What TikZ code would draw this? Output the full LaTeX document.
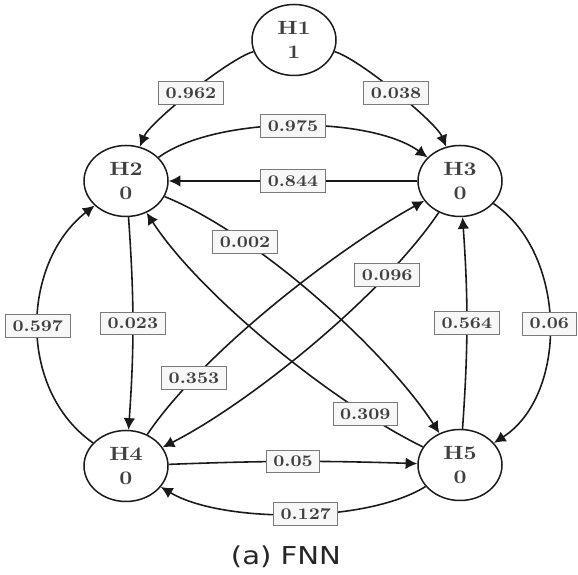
\documentclass[tikz,border=0pt]{standalone}
\usepackage{fontspec}
\usetikzlibrary{arrows.meta,shapes.geometric}
\newfontfamily\wideserif{lmroman10}[Extension=.otf,UprightFont=*-regular,BoldFont=*-bold,FakeStretch=1.18]
\newfontfamily\widesans{DejaVu Sans}[FakeStretch=1.18]
\definecolor{edgecol}{HTML}{1A1A1A}
\definecolor{txtcol}{HTML}{404040}
\definecolor{boxline}{HTML}{7A7A7A}
\definecolor{boxfill}{HTML}{F7F7F7}
\begin{document}
\begin{tikzpicture}[x=0.6pt,y=0.6pt,
    hnode/.style={ellipse,draw=edgecol,line width=0.9pt,minimum width=50.4pt,minimum height=42.6pt,
        inner sep=0pt,align=center,text=txtcol,font=\wideserif\fontsize{11.5}{14.5}\selectfont\bfseries},
    wt/.style={draw=boxline,fill=boxfill,line width=0.6pt,inner xsep=4.2pt,inner ysep=3.5pt,
        text=txtcol,font=\wideserif\fontsize{9.8}{11}\selectfont\bfseries},
    link/.style={draw=edgecol,line width=0.95pt,-{Latex[length=7pt,width=7pt]}}]
\useasboundingbox (0,0) rectangle (578,575);
% states
\node[hnode] (H1) at (294,535) {H1\\1};
\node[hnode] (H2) at (126,394) {H2\\0};
\node[hnode] (H3) at (460,394) {H3\\0};
\node[hnode] (H4) at (126,109) {H4\\0};
\node[hnode] (H5) at (460,110) {H5\\0};
% transitions
\draw[link] (H1) to[out=196,in=68,looseness=0.45] node[wt] {0.962} (H2);
\draw[link] (H1) to[out=-16,in=112,looseness=0.45] node[wt] {0.038} (H3);
\draw[link] (H2) to[out=36,in=144,looseness=0.68] node[wt] {0.975} (H3);
\draw[link] (H3) -- node[wt] {0.844} (H2);
\draw[link] (H2) to[bend left=4] node[wt] {0.023} (H4);
\draw[link] (H4) to[out=145,in=218,looseness=1] node[wt] {0.597} (H2);
\draw[link] (H2) to[out=-22,in=123,looseness=0.7] node[wt,pos=0.27] {0.002} (H5);
\draw[link] (H5) to[out=154,in=-57,looseness=0.7] node[wt,pos=0.2] {0.309} (H2);
\draw[link] (H4) to[out=56,in=209,looseness=0.7] node[wt,pos=0.22] {0.353} (H3);
\draw[link] (H3) to[out=236,in=27,looseness=0.7] node[wt,pos=0.24] {0.096} (H4);
\draw[link] (H3) to[out=-34,in=33,looseness=0.95] node[wt] {0.06} (H5);
\draw[link] (H5) to[bend right=4] node[wt] {0.564} (H3);
\draw[link] (H4) to[bend left=2] node[wt] {0.05} (H5);
\draw[link] (H5) to[out=212,in=-31,looseness=0.68] node[wt,pos=0.46] {0.127} (H4);
% caption
\node[font=\widesans\fontsize{14.8}{17}\selectfont,text=black!85,anchor=base] (cap) at (286,10) {(a) FNN};
\end{tikzpicture}
\end{document}
